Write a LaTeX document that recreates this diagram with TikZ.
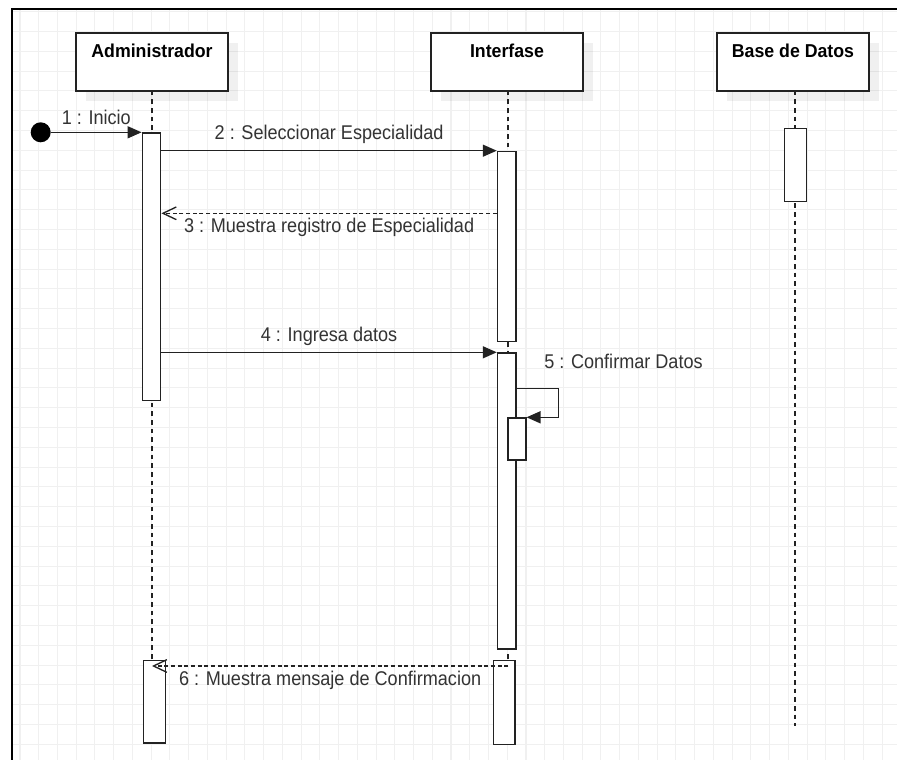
\documentclass[tikz,border=0pt]{standalone}
\usepackage{fontspec}
\setmainfont{Liberation Sans}[FakeStretch=0.95]
\newfontfamily\lblfont{Liberation Sans}[FakeStretch=0.91]
\usetikzlibrary{arrows.meta,shadows,calc}
\definecolor{gridc}{HTML}{F0F0F0}
\definecolor{linec}{HTML}{222222}
\definecolor{txtc}{HTML}{333333}
\tikzset{
  actor/.style={draw=linec, line width=1.3pt, fill=white, minimum width=113.5pt, minimum height=43.5pt, inner sep=0pt,
    drop shadow={shadow xshift=7.5pt, shadow yshift=-7.5pt, fill=black, opacity=0.06}},
  title/.style={font=\fontsize{14pt}{16pt}\selectfont\bfseries, text=black, inner sep=0pt},
  bar/.style={draw=linec, line width=1.1pt, fill=white, inner sep=0pt, anchor=north},
  lifeline/.style={draw=linec, line width=1.1pt, dash pattern=on 3.4pt off 3.1pt},
  lbl/.style={font=\lblfont\fontsize{14.9pt}{16pt}\selectfont, text=txtc, inner sep=0pt},
  sync/.style={draw=linec, line width=1.1pt, -{Triangle[length=10.5pt,width=9pt]}},
  ret/.style={draw=linec, line width=1pt, dash pattern=on 3pt off 2pt, -{Straight Barb[length=10pt,width=9.5pt,line width=1pt]}},
}
\begin{document}
\begin{tikzpicture}[x=0.75pt,y=-0.75pt]
\useasboundingbox (0,0) rectangle (897,760);
\fill[white] (0,0) rectangle (897,760);
% grid
\begin{scope}
\clip (12,9) rectangle (897,760);
\foreach \i in {0,...,47} \draw[gridc, line width=0.8pt] (20+18.74*\i,9) -- (20+18.74*\i,760);
\foreach \j in {0,...,38} \draw[gridc, line width=0.8pt] (12,11.7+19.8*\j) -- (897,11.7+19.8*\j);
\end{scope}
% frame
\draw[black, line width=1.6pt] (12,760) -- (12,9) -- (897,9);

% lifelines (drawn first, bars cover them)
\draw[lifeline] (152,90.7) -- (152,660);
\draw[lifeline] (508,90.7) -- (508,660);
\draw[lifeline] (795,90.7) -- (795,725.7);

% actor boxes
\node[actor] (adm) at (152,61.7) {};
\node[title] (admt) at ($(adm.north)+(0,19)$) {Administrador};
\node[actor] (intf) at (507,61.7) {};
\node[title] (intft) at ($(intf.north)+(0,19)$) {Interfase};
\node[actor] (bdd) at (793,61.7) {};
\node[title] (bddt) at ($(bdd.north)+(0,19)$) {Base de Datos};

% activation bars
\node[bar, minimum width=13.8pt, minimum height=200.5pt] (adm1) at (151.5,132.3) {};
\node[bar, minimum width=16.5pt, minimum height=61.8pt] (adm3) at (154.5,660) {};
\node[bar, minimum width=13.8pt, minimum height=142.5pt] (int1) at (506.7,150.7) {};
\node[bar, minimum width=13.8pt, minimum height=222pt] (int2) at (506.7,352.3) {};
\node[bar, minimum width=13.5pt, minimum height=31.3pt] (int2b) at (516.8,417.3) {};
\node[bar, minimum width=16.3pt, minimum height=63pt] (int3) at (504.2,660) {};
\node[bar, minimum width=16.8pt, minimum height=54.8pt] (bdd1) at (795.5,127.7) {};

% start dot
\node[circle, fill=black, minimum size=15pt, inner sep=0pt] (start) at (40.7,132.3) {};

% messages
\draw[sync] (start) -- (adm1.north west)
  node[lbl, midway, yshift=11.5pt] (m1) {1 : Inicio};
\draw[sync] (adm1.east |- int1.north west) -- (int1.north west)
  node[lbl, midway, yshift=12pt] (m2) {2 : Seleccionar Especialidad};
\coordinate (r3) at (0,213.3);
\draw[ret] (int1.west |- r3) -- (adm1.east |- r3)
  node[lbl, midway, yshift=-10.5pt] (m3) {3 : Muestra registro de Especialidad};
\draw[sync] (adm1.east |- int2.north west) -- (int2.north west)
  node[lbl, midway, yshift=12.3pt] (m4) {4 : Ingresa datos};
\coordinate (s5a) at (0,388.3);
\coordinate (s5b) at (558.3,417.3);
\draw[sync] (int2.east |- s5a) -| (s5b) -- (int2b.north east);
\node[lbl, anchor=west] (m5) at (544,361) {5 : Confirmar Datos};
\coordinate (r6) at (508.3,666);
\draw[ret] (r6) -- (152,666)
  node[lbl, midway, yshift=-10.5pt] (m6) {6 : Muestra mensaje de Confirmacion};
\end{tikzpicture}
\end{document}
